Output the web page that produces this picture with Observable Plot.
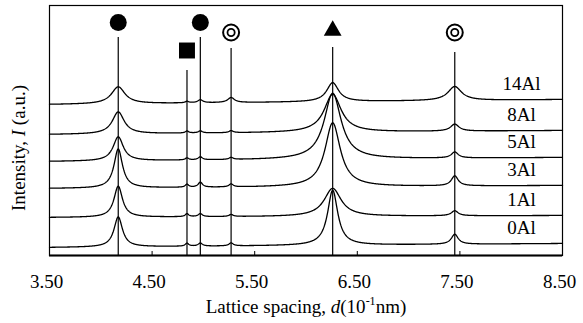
<!DOCTYPE html>
<html>
<head>
<meta charset="utf-8">
<script src="https://cdn.jsdelivr.net/npm/d3@7"></script>
<script src="https://cdn.jsdelivr.net/npm/@observablehq/plot@0.6"></script>
<style>
  html, body { margin: 0; padding: 0; background: #fff; }
  #chart svg { display: block; }
</style>
</head>
<body>
<div id="chart"></div>
<script>
// ---- data (intensity in arbitrary units) ----
const series = ["0Al", "1Al", "3Al", "5Al", "8Al", "14Al"];
// baseline of each trace at d = 3.5 and at d = 8.5 (stack offsets, a.u.)
const baseLeft  = [8, 38, 67, 94, 121, 151];
const baseRight = [12, 40, 70, 98, 125, 156];
// diffraction peak positions (10^-1 nm)
const peakD = [4.17, 4.84, 4.97, 5.27, 6.26, 7.45];
// peak heights for each trace (a.u.)
const h0Al  = [30, 3, 3, 3, 55, 10];
const h1Al  = [31, 3, 3, 2, 28, 5];
const h3Al  = [39, 3, 5, 3, 64, 10];
const h5Al  = [24, 2, 3, 2, 66, 6];
const h8Al  = [22, 2, 2, 2, 38, 7];
const h14Al = [17, 1.5, 3, 5, 19, 14];
// peak half widths for each trace (10^-1 nm)
const w0Al  = [0.05, 0.02, 0.025, 0.025, 0.06, 0.04];
const w1Al  = [0.05, 0.02, 0.025, 0.025, 0.10, 0.04];
const w3Al  = [0.05, 0.02, 0.025, 0.025, 0.09, 0.04];
const w5Al  = [0.06, 0.02, 0.025, 0.025, 0.10, 0.04];
const w8Al  = [0.07, 0.02, 0.025, 0.025, 0.10, 0.05];
const w14Al = [0.08, 0.02, 0.03, 0.04, 0.07, 0.08];
// phase markers above the peaks
const markD      = [4.17, 4.84, 4.97, 5.27, 6.26, 7.45];
const markSymbol = ["circle", "square", "circle", "ring", "triangle", "ring"];
const markLevel  = [233, 205, 233, 223, 225, 223];
const lineTop    = [218, 185, 218, 207, 208, 203];
// x axis ticks
const tickVals = [3.5, 4.5, 5.5, 6.5, 7.5, 8.5];

// ---- build traces ----
const heights = [h0Al, h1Al, h3Al, h5Al, h8Al, h14Al];
const widths  = [w0Al, w1Al, w3Al, w5Al, w8Al, w14Al];
const grid = d3.range(3.5, 8.5001, 0.004);
const rows = [];
series.forEach((s, i) => {
  for (const d of grid) {
    let I = baseLeft[i] + (baseRight[i] - baseLeft[i]) * (d - 3.5) / 5;
    peakD.forEach((p, k) => {
      const u = (d - p) / widths[i][k];
      I += heights[i][k] / (1 + u * u);
    });
    rows.push({series: s, d, I});
  }
});
const labels = series.map((s, i) => ({s, y: baseRight[i] + 16}));
const marks = markD.map((d, i) => ({d, sym: markSymbol[i], level: markLevel[i], top: lineTop[i]}));

const font = "Liberation Serif, Times New Roman, serif";

const chart = Plot.plot({
  width: 583,
  height: 323,
  marginLeft: 49,
  marginRight: 21,
  marginTop: 5,
  marginBottom: 68,
  style: {background: "#fff", color: "#000", fontFamily: font, fontSize: "19px"},
  x: {domain: [3.5, 8.5], axis: null},
  y: {domain: [0, 250], axis: null},
  marks: [
    Plot.ruleX(marks, {x: "d", y1: 0, y2: "top", stroke: "#000", strokeWidth: 1.2}),
    Plot.line(rows, {x: "d", y: "I", z: "series", stroke: "#000", strokeWidth: 1.3, curve: "linear"}),
    Plot.dot(marks.filter(m => m.sym === "circle"), {x: "d", y: "level", r: 8.5, fill: "#000", symbol: "circle"}),
    Plot.dot(marks.filter(m => m.sym === "square"), {x: "d", y: "level", r: 9, fill: "#000", symbol: "square"}),
    Plot.dot(marks.filter(m => m.sym === "triangle"), {x: "d", y: "level", r: 6.6, fill: "#000", symbol: "triangle"}),
    Plot.dot(marks.filter(m => m.sym === "ring"), {x: "d", y: "level", r: 8, fill: "none", stroke: "#000", strokeWidth: 2}),
    Plot.dot(marks.filter(m => m.sym === "ring"), {x: "d", y: "level", r: 3.6, fill: "none", stroke: "#000", strokeWidth: 1.8}),
    Plot.text(labels, {x: 8.1, y: "y", text: "s", fill: "#000", fontSize: 19, fontFamily: font}),
    Plot.ruleX(tickVals.slice(1, -1), {x: d => d, y1: 0, y2: 4, stroke: "#000", strokeWidth: 1}),
    Plot.frame({stroke: "#000", strokeWidth: 1.2}),
    Plot.ruleY([0], {stroke: "#000", strokeWidth: 2.2}),
    Plot.axisX(tickVals, {label: null, tickSize: 0, tickPadding: 19, dx: -3, tickFormat: d3.format(".2f"), fontSize: 19, fontFamily: font, fill: "#000"})
  ]
});

const svg = d3.select(chart);
// x axis title
const xt = svg.append("text")
  .attr("x", 306).attr("y", 313)
  .attr("text-anchor", "middle")
  .attr("font-family", font).attr("font-size", 19).attr("fill", "#000");
xt.append("tspan").text("Lattice spacing, ");
xt.append("tspan").attr("font-style", "italic").text("d");
xt.append("tspan").text("(10");
xt.append("tspan").attr("font-size", 12).attr("dy", -8).text("-1");
xt.append("tspan").attr("dy", 8).text("nm)");
// y axis title
const yt = svg.append("text")
  .attr("transform", "translate(25,148) rotate(-90)")
  .attr("text-anchor", "middle")
  .attr("font-family", font).attr("font-size", 19).attr("fill", "#000");
yt.append("tspan").text("Intensity, ");
yt.append("tspan").attr("font-style", "italic").text("I");
yt.append("tspan").text(" (a.u.)");

document.getElementById("chart").appendChild(chart);
</script>
</body>
</html>
